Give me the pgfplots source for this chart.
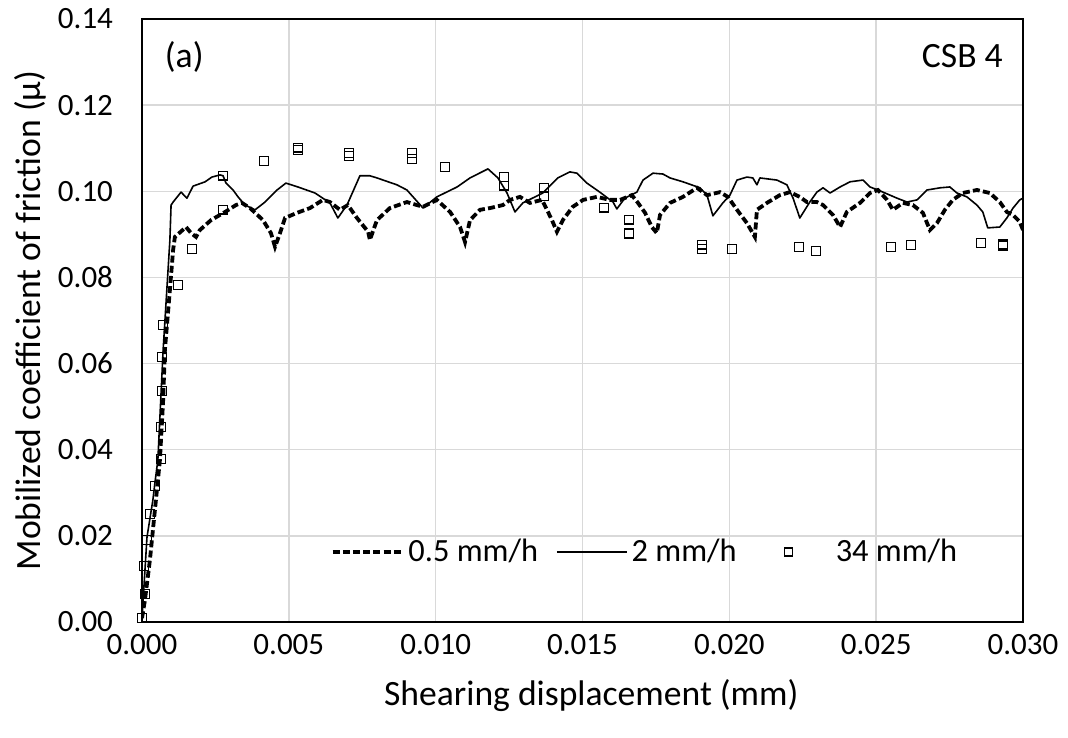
\documentclass[border=0pt]{standalone}
\usepackage{fontspec}
\setmainfont{Carlito}
\usepackage{pgfplots}
\pgfplotsset{compat=1.18}
\begin{document}
\begin{tikzpicture}
\begin{axis}[
  scale only axis, width=440.5pt, height=301.5pt,
  xmin=0, xmax=0.03, ymin=0, ymax=0.14,
  xtick={0,0.005,0.010,0.015,0.020,0.025,0.030},
  ytick={0,0.02,0.04,0.06,0.08,0.10,0.12,0.14},
  scaled x ticks=false, scaled y ticks=false,
  /pgf/number format/assume math mode=true,
  x tick label style={/pgf/number format/fixed, /pgf/number format/fixed zerofill, /pgf/number format/precision=3, font=\fontsize{15.5}{18}\selectfont},
  y tick label style={/pgf/number format/fixed, /pgf/number format/fixed zerofill, /pgf/number format/precision=2, font=\fontsize{15.5}{18}\selectfont},
  yticklabel shift=11pt,
  xticklabel shift=2.5pt,
  major tick length=0pt,
  grid=major,
  grid style={line width=0.75pt, color=black!15},
  axis line style={line width=0.9pt, black},
  xlabel={Shearing displacement (mm)},
  ylabel={Mobilized coefficient of friction (μ)},
  xlabel style={at={(axis description cs:0.51,-0.122)}, anchor=center, font=\fontsize{17.8}{21}\selectfont},
  ylabel style={at={(axis description cs:-0.127,0.5)}, anchor=center, font=\fontsize{17.8}{21}\selectfont},
  legend style={at={(0.572,0.116)}, anchor=center, draw=none, fill=none,
    font=\fontsize{16.2}{19}\selectfont, legend columns=3,
    /tikz/every even column/.append style={column sep=7pt}},
  legend image code/.code={\draw[mark repeat=2,mark phase=2,#1] plot coordinates {(0pt,0pt) (17.5pt,0pt) (35pt,0pt)};},
]
\addplot[black, line width=1.9pt, dash pattern=on 3.5pt off 1.6pt] coordinates {
(0.00000,0.0009) (0.00010,0.0051) (0.00027,0.0144) (0.00044,0.0260) (0.00061,0.0376)
(0.00072,0.0515) (0.00078,0.0632) (0.00095,0.0771) (0.00106,0.0864) (0.00112,0.0894)
(0.00150,0.0917) (0.00167,0.0903) (0.00184,0.0894) (0.00197,0.0910) (0.00235,0.0933)
(0.00283,0.0952) (0.00320,0.0968) (0.00340,0.0973) (0.00368,0.0961) (0.00412,0.0933)
(0.00439,0.0903) (0.00453,0.0871) (0.00470,0.0903) (0.00487,0.0938) (0.00528,0.0950)
(0.00572,0.0961) (0.00616,0.0980) (0.00640,0.0975) (0.00674,0.0957) (0.00701,0.0968)
(0.00732,0.0938) (0.00770,0.0906) (0.00776,0.0887) (0.00800,0.0933) (0.00844,0.0961)
(0.00902,0.0975) (0.00936,0.0968) (0.00957,0.0964) (0.01004,0.0980) (0.01049,0.0952)
(0.01083,0.0917) (0.01100,0.0882) (0.01117,0.0933) (0.01151,0.0957) (0.01185,0.0961)
(0.01229,0.0968) (0.01253,0.0980) (0.01287,0.0987) (0.01321,0.0973) (0.01362,0.0980)
(0.01379,0.0957) (0.01396,0.0933) (0.01413,0.0906) (0.01433,0.0933) (0.01467,0.0964)
(0.01502,0.0980) (0.01549,0.0987) (0.01593,0.0980) (0.01628,0.0980) (0.01668,0.0991)
(0.01689,0.0973) (0.01713,0.0950) (0.01736,0.0917) (0.01753,0.0903) (0.01764,0.0945)
(0.01798,0.0973) (0.01842,0.0987) (0.01890,0.1008) (0.01924,0.0991) (0.01968,0.0998)
(0.01995,0.0987) (0.02026,0.0957) (0.02060,0.0926) (0.02087,0.0894) (0.02094,0.0957)
(0.02128,0.0973) (0.02172,0.0991) (0.02206,0.0998) (0.02240,0.0987) (0.02264,0.0975)
(0.02298,0.0975) (0.02319,0.0968) (0.02353,0.0945) (0.02377,0.0917) (0.02400,0.0952)
(0.02445,0.0973) (0.02479,0.0996) (0.02506,0.1003) (0.02537,0.0980) (0.02557,0.0957)
(0.02591,0.0973) (0.02625,0.0968) (0.02659,0.0950) (0.02683,0.0910) (0.02707,0.0926)
(0.02734,0.0957) (0.02761,0.0980) (0.02795,0.0996) (0.02843,0.1003) (0.02887,0.0996)
(0.02921,0.0975) (0.02945,0.0952) (0.02966,0.0945) (0.02989,0.0929) (0.03000,0.0910)
};
\addlegendentry{0.5 mm/h}
\addplot[black, line width=0.8pt, line join=round] coordinates {
(0.00000,0.0009) (0.00017,0.0197) (0.00037,0.0283) (0.00044,0.0323) (0.00054,0.0376)
(0.00072,0.0632) (0.00095,0.0887) (0.00099,0.0968) (0.00106,0.0975) (0.00133,0.0998)
(0.00153,0.0984) (0.00174,0.1012) (0.00215,0.1022) (0.00238,0.1033) (0.00266,0.1038)
(0.00276,0.1036) (0.00286,0.1019) (0.00310,0.1003) (0.00327,0.0987) (0.00351,0.0968)
(0.00385,0.0957) (0.00419,0.0975) (0.00460,0.1003) (0.00490,0.1019) (0.00531,0.1010)
(0.00589,0.0996) (0.00640,0.0973) (0.00667,0.0938) (0.00698,0.0968) (0.00742,0.1036)
(0.00776,0.1036) (0.00800,0.1031) (0.00868,0.1015) (0.00902,0.1003) (0.00957,0.0961)
(0.01004,0.0987) (0.01073,0.1010) (0.01117,0.1031) (0.01178,0.1052) (0.01212,0.1031)
(0.01243,0.0996) (0.01270,0.0952) (0.01297,0.0973) (0.01365,0.0996) (0.01416,0.1031)
(0.01457,0.1045) (0.01481,0.1042) (0.01515,0.1019) (0.01559,0.0998) (0.01604,0.0975)
(0.01617,0.0959) (0.01644,0.0984) (0.01685,0.0998) (0.01706,0.1026) (0.01740,0.1042)
(0.01774,0.1040) (0.01798,0.1031) (0.01842,0.1022) (0.01900,0.1008) (0.01924,0.0991)
(0.01944,0.0943) (0.01978,0.0973) (0.02002,0.0991) (0.02026,0.1026) (0.02060,0.1033)
(0.02080,0.1031) (0.02094,0.1015) (0.02104,0.1031) (0.02162,0.1026) (0.02196,0.1015)
(0.02217,0.0984) (0.02240,0.0938) (0.02274,0.0975) (0.02298,0.0998) (0.02319,0.1008)
(0.02343,0.0996) (0.02377,0.1010) (0.02411,0.1022) (0.02455,0.1026) (0.02479,0.1010)
(0.02506,0.1003) (0.02571,0.0984) (0.02605,0.0975) (0.02639,0.0980) (0.02673,0.1003)
(0.02717,0.1008) (0.02751,0.1010) (0.02775,0.0996) (0.02809,0.0987) (0.02843,0.0968)
(0.02863,0.0952) (0.02880,0.0915) (0.02921,0.0917) (0.02945,0.0938) (0.02966,0.0961)
(0.02989,0.0980) (0.03000,0.0984)
};
\addlegendentry{2 mm/h}
\addplot[only marks, mark=square, mark size=2.2pt, mark options={black, line width=0.7pt},
  legend image code/.code={\path[draw=none, fill=none] (0pt,-1pt) rectangle (38.5pt,1pt);
    \draw[black, line width=0.7pt, fill=none] (15pt,-2pt) rectangle (19pt,2pt);}] coordinates {
(0.00000,0.0009) (0.00010,0.0065) (0.00007,0.0130) (0.00017,0.0190) (0.00027,0.0251)
(0.00044,0.0316) (0.00065,0.0378) (0.00065,0.0453) (0.00068,0.0536) (0.00068,0.0615)
(0.00072,0.0690) (0.00123,0.0782) (0.00170,0.0866) (0.00276,0.0957) (0.00276,0.1036)
(0.00415,0.1070) (0.00531,0.1101) (0.00531,0.1096) (0.00705,0.1089) (0.00705,0.1082)
(0.00919,0.1089) (0.00919,0.1075) (0.01032,0.1056) (0.01233,0.1033) (0.01233,0.1013)
(0.01369,0.1008) (0.01369,0.0989) (0.01573,0.0962) (0.01658,0.0934) (0.01658,0.0902)
(0.01907,0.0876) (0.01907,0.0866) (0.02009,0.0866) (0.02237,0.0871) (0.02295,0.0861)
(0.02550,0.0871) (0.02618,0.0875) (0.02857,0.0880) (0.02932,0.0878) (0.02932,0.0874)
};
\addlegendentry{34 mm/h}
\node[anchor=base west, font=\fontsize{17.8}{21}\selectfont] at (axis description cs:0.018,0.919) {(a)};
\node[anchor=base east, font=\fontsize{17.8}{21}\selectfont] at (axis description cs:0.985,0.920) {CSB 4};
\end{axis}
\pgfresetboundingbox
\path (-71pt,-57.5pt) rectangle (463pt,311pt);
\end{tikzpicture}
\end{document}
